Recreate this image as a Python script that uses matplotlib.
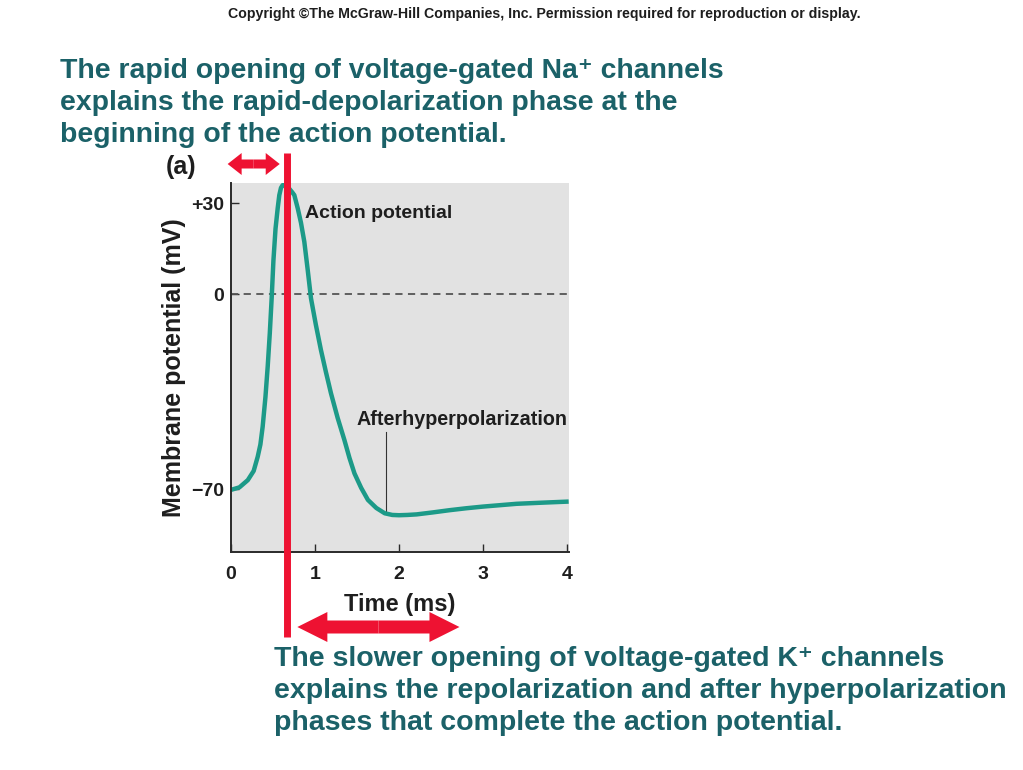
import numpy as np
import matplotlib
matplotlib.use('Agg')
import matplotlib.pyplot as plt
from matplotlib.patches import FancyArrow

plt.rcParams['font.family'] = ['Liberation Sans', 'DejaVu Sans']

# action potential trace (ms, mV)
time_ms = [0.0, 0.1, 0.2, 0.27, 0.318, 0.35, 0.377, 0.41, 0.437, 0.462, 0.485, 0.505,
           0.53, 0.556, 0.575, 0.595, 0.615, 0.64, 0.67, 0.7, 0.73, 0.754, 0.794,
           0.833, 0.873, 0.913, 0.952, 1.01, 1.07, 1.13, 1.19, 1.27, 1.35, 1.41, 1.47,
           1.55, 1.63, 1.73, 1.83, 1.92, 2.0, 2.1, 2.21, 2.4, 2.6, 2.8, 3.0, 3.2,
           3.4, 3.7, 4.02]
potential_mv = [-70.3, -69.4, -66.8, -63.5, -58.4, -54, -47.6, -37, -26, -14, -1, 11,
                21.5, 28.3, 32.6, 35, 35.9, 36, 35.6, 34.5, 33.5, 32.6, 28.3,
                23.5, 17.2, 8, -1.5, -11, -20, -28, -35.6, -44.5, -52.4, -58.8, -64.4,
                -69.6, -73.9, -76.8, -78.7, -79.3, -79.4, -79.3, -79.1, -78.4, -77.6,
                -76.9, -76.3, -75.8, -75.3, -74.9, -74.5]

yticks = [-70, 0, 30]
ytick_labels = ['\u221270', '0', '+30']
xticks = [0, 1, 2, 3, 4]

ahp_t = 1.84               # afterhyperpolarization pointer
ahp_span = (-49.5, -78.6)
marker_t = 0.667           # red vertical marker
na_phase = (-0.04, 0.58)   # rapid depolarization arrow
k_phase = (0.79, 2.72)     # repolarization arrow

teal_text = '#1b6168'
trace = '#1c9a88'
red = '#ee1232'
ink = '#1e1e1e'

fig = plt.figure(figsize=(10.23, 7.70), dpi=100)
ax = fig.add_axes([231 / 1023, 1 - 552 / 770, 338 / 1023, 369 / 770])

# the printed figure uses a slightly larger scale above 0 mV
k = 1.0887
def fwd(v):
    v = np.asarray(v, dtype=float)
    return np.where(v > 0, v * k, v)
def inv(u):
    u = np.asarray(u, dtype=float)
    return np.where(u > 0, u / k, u)

ax.set_yscale('function', functions=(fwd, inv))
ax.set_xlim(0, 4.024)
ax.set_ylim(-92.6, 36.6)
ax.set_facecolor('#e2e2e2')

ax.axhline(0, color='#555555', lw=1.3, ls=(0, (4, 3)))
ax.plot(time_ms, potential_mv, color=trace, lw=3.2, solid_joinstyle='round',
        solid_capstyle='butt', zorder=3)
ax.plot([ahp_t, ahp_t], ahp_span, color='#333333', lw=0.8)

for s in ['top', 'right']:
    ax.spines[s].set_visible(False)
for s in ['left', 'bottom']:
    ax.spines[s].set_linewidth(1.4)
    ax.spines[s].set_color('#2a2a2a')
    ax.spines[s].set_zorder(4)

ax.set_yticks(yticks)
ax.set_yticklabels(ytick_labels)
ax.set_xticks(xticks)
ax.set_xticklabels([str(t) for t in xticks])
ax.tick_params(axis='both', direction='in', length=6, width=1.0, color='#2a2a2a',
               labelsize=14, pad=5)
ax.tick_params(axis='x', pad=10)
for lab in ax.get_xticklabels() + ax.get_yticklabels():
    lab.set_fontweight('bold')
    lab.set_color(ink)

ax.set_xlabel('Time (ms)', fontsize=17, fontweight='bold', color=ink, labelpad=7)
ax.set_ylabel('Membrane potential (mV)', fontsize=18, fontweight='bold',
              color=ink, labelpad=4)

ax.text(0.88, 26.4, 'Action potential', fontsize=14, fontweight='bold',
        color=ink, va='center', ha='left')
ax.text(1.49, -45, 'Afterhyperpolarization', fontsize=14.2, fontweight='bold',
        color=ink, va='center', ha='left')


def px(t):
    return ax.transData.transform((t, 0))[0]


# overlay in figure pixels for the annotations
ov = fig.add_axes([0, 0, 1, 1], zorder=5)
ov.set_xlim(0, 1023)
ov.set_ylim(770, 0)
ov.axis('off')
ov.patch.set_alpha(0)

ov.text(181, 167, '(a)', fontsize=18, fontweight='bold', color=ink,
        ha='center', va='center')

ov.text(544, 14, 'Copyright \u00a9The McGraw-Hill Companies, Inc. Permission required for reproduction or display.',
        fontsize=10.2, fontweight='bold', color=ink, ha='center', va='center')

top_lines = ['The rapid opening of voltage-gated Na\u207a channels',
             'explains the rapid-depolarization phase at the',
             'beginning of the action potential.']
for i, line in enumerate(top_lines):
    ov.text(60, 71 + 32 * i, line, fontsize=20.4, fontweight='bold', color=teal_text,
            ha='left', va='center')

bottom_lines = ['The slower opening of voltage-gated K\u207a channels',
                'explains the repolarization and after hyperpolarization',
                'phases that complete the action potential.']
for i, line in enumerate(bottom_lines):
    ov.text(274, 659 + 32 * i, line, fontsize=20.5, fontweight='bold', color=teal_text,
            ha='left', va='center')

xm = px(marker_t)
ov.plot([xm, xm], [153, 637], color=red, lw=5, solid_capstyle='butt')


def double_arrow(x0, x1, y, width, head_w, head_len):
    mid = (x0 + x1) / 2
    for end in (x0, x1):
        ov.add_patch(FancyArrow(mid, y, end - mid, 0, width=width, head_width=head_w,
                                head_length=head_len, length_includes_head=True,
                                color=red, lw=0))


double_arrow(px(na_phase[0]), px(na_phase[1]), 164, 9, 22, 14)
double_arrow(px(k_phase[0]), px(k_phase[1]), 627, 13, 30, 30)

fig.savefig('out.png', dpi=100)
